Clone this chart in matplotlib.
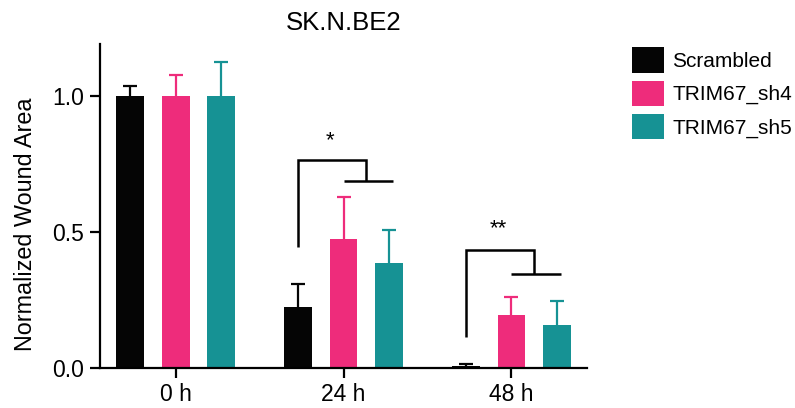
import numpy as np
import matplotlib
matplotlib.use("Agg")
import matplotlib.pyplot as plt

plt.rcParams['font.family'] = ['Liberation Sans', 'DejaVu Sans']

# donnees : aire de la plaie normalisee (moyenne + erreur vers le haut)
temps = ["0 h", "24 h", "48 h"]
groupes = ["Scrambled", "TRIM67_sh4", "TRIM67_sh5"]
couleurs = ["#050505", "#EE2C7B", "#169294"]
moyennes = [
    [1.0, 0.225, 0.006],   # Scrambled
    [1.0, 0.473, 0.195],   # TRIM67_sh4
    [1.0, 0.387, 0.157],   # TRIM67_sh5
]
erreurs = [
    [0.035, 0.083, 0.008],
    [0.077, 0.157, 0.065],
    [0.125, 0.121, 0.089],
]

# crochets de significativite : (groupe de temps, hauteur du crochet, bas gauche, barre droite, texte)
signif = [
    (1, 0.765, 0.444, 0.688, "*"),
    (2, 0.433, 0.113, 0.346, "**"),
]

x = np.arange(len(temps))
decal = 0.273
larg = 0.166

fig = plt.figure(figsize=(7.95, 4.08), dpi=100)
ax = fig.add_axes([0.1258, 0.098, 0.6126, 0.794])

for k in range(3):
    pos = x + (k - 1) * decal
    ax.bar(pos, moyennes[k], width=larg, color=couleurs[k], label=groupes[k], zorder=2)
    _, caps, _ = ax.errorbar(pos, moyennes[k], yerr=[np.zeros(3), erreurs[k]], fmt='none',
                             ecolor=couleurs[k], elinewidth=1.6, capsize=4.8, capthick=1.6,
                             zorder=1)
    # pas de trait horizontal en bas (erreur seulement vers le haut)
    caps[0].set_visible(False)

for g, haut, bas, barre, txt in signif:
    xg = g - decal
    xd = g + decal
    xm = (g + xd) / 2
    ax.plot([xg, xg, xm, xm], [bas, haut, haut, barre], color='black', lw=1.8,
            solid_capstyle='butt', solid_joinstyle='miter')
    ax.plot([g, xd + 0.02], [barre, barre], color='black', lw=1.8, solid_capstyle='butt')

ax.text(0.918, 0.835, "*", ha='center', va='center', fontsize=16)
ax.text(1.924, 0.512, "**", ha='center', va='center', fontsize=16)

ax.set_xlim(-0.45, 2.45)
ax.set_ylim(0, 1.19)
ax.set_xticks(x)
ax.set_xticklabels(temps)
ax.set_yticks([0.0, 0.5, 1.0])
ax.set_yticklabels(["0.0", "0.5", "1.0"])
ax.tick_params(axis='both', labelsize=16.5, width=1.6, length=7.5)
ax.tick_params(axis='y', pad=4)
ax.tick_params(axis='x', pad=3)
for s in ['top', 'right']:
    ax.spines[s].set_visible(False)
for s in ['left', 'bottom']:
    ax.spines[s].set_linewidth(1.6)

ax.set_ylabel("Normalized Wound Area", fontsize=16.8)
ax.yaxis.label.set_verticalalignment('center')
ax.yaxis.set_label_coords(-0.154, 0.444)
ax.set_title("SK.N.BE2", fontsize=18.5, pad=10)

fig.legend(loc='upper left', bbox_to_anchor=(0.7946, 0.884), frameon=False,
           fontsize=15, handlelength=1.54, handleheight=1.49, labelspacing=0.385,
           handletextpad=0.4, borderpad=0, borderaxespad=0)

fig.savefig("out.png", dpi=100)
